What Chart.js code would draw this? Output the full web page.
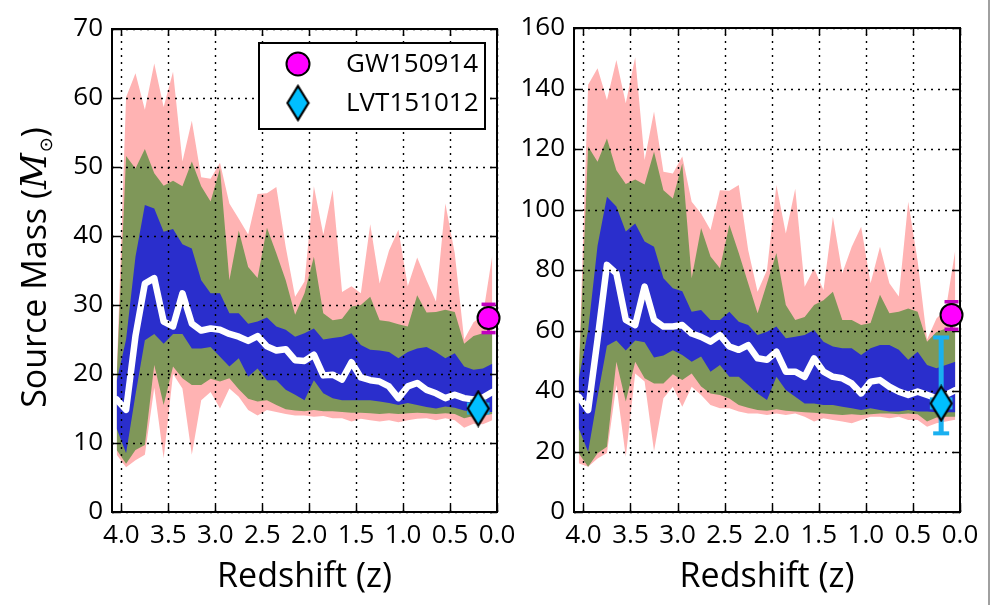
<!DOCTYPE html>
<html>
<head>
<meta charset="utf-8">
<script src="https://cdn.jsdelivr.net/npm/chart.js@4.4.1/dist/chart.umd.min.js"></script>
<style>
html, body { margin: 0; padding: 0; background: #fff; }
#wrap { position: relative; width: 993px; height: 605px; overflow: hidden; background: #fff; }
#wrap canvas { position: absolute; top: 0; }
#edge { position: absolute; left: 988px; top: 0; width: 2px; height: 605px; background: #a0a0a0; }
</style>
</head>
<body>
<div id="wrap">
  <canvas id="leftPanel" width="530" height="605" style="left:0px"></canvas>
  <canvas id="rightPanel" width="520" height="605" style="left:470px"></canvas>
  <div id="edge"></div>
</div>
<script>
// redshift bin centres (x values of every band / line)
const zBins = [4.05,3.95,3.85,3.75,3.65,3.55,3.45,3.35,3.25,3.15,
               3.05,2.95,2.85,2.75,2.65,2.55,2.45,2.35,2.25,2.15,
               2.05,1.95,1.85,1.75,1.65,1.55,1.45,1.35,1.25,1.15,
               1.05,0.95,0.85,0.75,0.65,0.55,0.45,0.35,0.25,0.15,0.05];

// left panel (component mass)
const leftMedian  = [16.3,14.8,25.5,33.1,33.9,27.6,26.9,31.7,27.3,26.3, 26.6,26.4,25.8,25.4,24.8,25.5,24.0,23.4,23.6,22.0, 21.9,22.8,19.8,19.9,19.2,21.7,19.5,19.1,18.9,18.2, 16.5,18.2,18.7,17.7,17.2,16.5,17.0,16.5,16.3,16.6, 17.4];
const leftBlueHi  = [19,25,37,44.5,44.0,40.6,41.0,38.8,38.2,33.6, 31.7,31.7,28.8,28.8,27.3,27.6,28.2,26.9,26.4,25.4, 25.9,26.6,25.0,25.2,25.4,25.9,24.2,23.5,23.4,23.2, 22.3,23.2,23.7,23.9,23.2,22.3,23.0,21.1,20.6,20.8, 21.5];
const leftBlueLo  = [12.1,8.5,17,24.9,25.8,24.4,25.8,25.8,23.7,23.7, 23.9,22.5,21.1,22.3,19.6,20.8,19.1,19.1,17.7,17.0, 16.2,19.1,17.2,16.5,16.2,16.2,16.2,16.2,16.0,15.8, 15.5,15.8,15.5,15.2,15.0,15.3,15.1,14.7,14.5,14.5, 14.5];
const leftGreenHi = [19.5,51.6,49.8,52.6,49.1,47.3,48.0,47.2,50.8,47.2, 45.0,49.8,33.6,40.8,35.5,33.9,41.2,37.5,33.6,28.6, 31.7,37.0,28.8,27.8,28.0,29.8,30.0,31.2,27.8,27.6, 27.2,26.9,31.4,28.9,29.0,29.3,29.0,24.4,25.5,25.9, 25.9];
const leftGreenLo = [9.0,7.0,9.0,9.7,21.3,15.5,21.1,19.4,18.4,18.4, 19.3,18.9,19.4,17.8,16.4,16.0,16.2,15.5,14.9,14.7, 14.6,14.8,14.6,14.6,14.5,14.4,14.4,14.3,14.2,14.3, 14.2,14.3,14.4,14.3,14.2,14.3,14.2,13.6,13.9,14.0, 14.2];
const leftPinkHi  = [20,60.1,63.6,58.3,65.0,58.7,63.8,50.8,56.7,48.5, 48.3,50.6,44.7,42.5,40.2,46.1,46.2,47.1,38.4,31.2, 33.4,47.2,40.2,46.7,31.9,32.7,31.7,41.7,33.1,37.9, 40.9,32.7,36.9,33.6,30.5,44.7,37.5,25.0,27.5,28.5, 37.2];
const leftPinkLo  = [8.3,6.5,7.5,8.3,18.0,7.8,20.0,17.9,8.3,16.2, 17.4,15.0,17.9,16.7,14.8,14.0,14.8,14.5,14.2,14.0, 14.0,13.8,13.9,13.6,13.6,13.1,13.5,13.3,13.1,13.3, 13.0,13.3,13.5,13.6,13.3,13.6,13.3,12.2,12.8,12.7, 13.3];

// right panel (total mass)
const rightMedian  = [38.1,33.7,57,81.7,78.9,63.5,61.8,74.5,63.5,61.3, 61.3,61.8,59.0,57.9,56.3,58.5,54.7,53.6,55.2,50.8, 50.3,53.0,46.4,46.4,44.7,50.8,46.4,44.7,44.2,42.5, 39.2,43.1,43.6,41.4,39.8,38.7,39.8,38.7,37.6,38.7, 40.3];
const rightBlueHi  = [44,60,88,104.2,101,92.7,95.4,89.4,87.7,77.3, 74.0,73.0,66.2,66.8,63.5,63.5,66.2,62.9,61.8,58.5, 59.6,61.3,57.4,57.9,58.5,60.2,56.3,54.7,54.1,54.1, 51.9,54.1,55.2,55.2,53.6,50.3,53.0,48.6,47.5,48.6, 49.7];
const rightBlueLo  = [27.7,19.9,38,55.0,56.7,53.4,56.7,56.1,51.1,51.7, 53.5,51.9,49.7,51.4,46.4,48.6,44.7,44.7,42.0,39.2, 37.0,44.7,40.3,38.1,35.9,35.9,35.4,35.4,34.8,34.3, 33.7,34.3,33.7,33.2,33.2,33.7,33.2,33.2,33.0,33.0, 33.0];
const rightGreenHi = [44.5,120.8,115.8,123.5,113.0,108.4,109.9,108.3,119.1,106.4, 103.6,115.2,77.3,93.9,84.5,80.6,95.0,85.6,75.6,65.7, 75.6,85.6,68.4,63.5,64.5,68.4,70.0,72.8,63.5,63.5, 61.8,62.5,71.8,65.7,66.2,67.3,66.2,56.3,59.5,60.7, 60.7];
const rightGreenLo = [19.4,15.0,19.4,21.6,49.7,36.5,49.7,44.2,42.5,42.5, 45.5,43.6,45.8,41.5,39.2,38.7,37.5,35.4,34.5,33.7, 33.5,34.0,33.5,33.2,33.0,32.8,32.6,32.3,32.1,32.3, 32.1,32.3,32.6,32.6,32.3,32.6,32.3,29.9,31.2,31.5, 31.5];
const rightPinkHi  = [45,141.2,146.7,136.2,149.4,135.1,150.3,116.4,132.4,112.5, 111.9,117.5,102.6,98.7,93.2,106.4,106.2,108.1,86.6,72.8, 80.0,108.1,92.1,106.9,74.5,80.5,73.4,97.6,78.9,87.7, 94.3,75.6,87.7,75.6,71.2,102.6,83.0,57.0,64.0,67.0, 86.6];
const rightPinkLo  = [16.1,15.0,17.7,19.5,42.0,18.3,45.8,43.1,20.1,37.6, 41.4,34.8,41.4,38.7,35.4,34.3,34.3,33.2,32.6,32.6, 32.1,32.6,32.1,32.6,31.5,29.9,31.0,30.4,29.9,29.3, 30.4,31.5,31.5,31.0,31.5,30.4,30.4,28.2,29.3,29.9, 30.5];

// events: [GW150914, LVT151012]
const eventNames = ['GW150914', 'LVT151012'];
const eventZ = [0.09, 0.2];
const lvtZRange = [0.08, 0.32];
const leftEventMass = [28.1, 15.0];
const leftEventLo   = [26.0, 14.3];
const leftEventHi   = [30.1, 16.0];
const rightEventMass = [65.1, 35.9];
const rightEventLo   = [60.4, 26.0];
const rightEventHi   = [69.5, 57.7];

const blueCol = '#2a2ecc', greenCol = '#7f9759', pinkCol = '#ffb3b3';
const magenta = '#ff00ff', magentaBar = '#c000c0', cyan = '#00bfff', cyanBar = '#1ab0f0';
const FONT = '"Open Sans", "DejaVu Sans", sans-serif';

function makeDiamond(w, h) {
  const c = document.createElement('canvas');
  c.width = w + 4; c.height = h + 4;
  const g = c.getContext('2d');
  g.beginPath();
  g.moveTo(c.width / 2, 2);
  g.lineTo(c.width - 2, c.height / 2);
  g.lineTo(c.width / 2, c.height - 2);
  g.lineTo(2, c.height / 2);
  g.closePath();
  g.fillStyle = cyan; g.fill();
  g.lineWidth = 2.2; g.strokeStyle = '#000'; g.lineJoin = 'miter'; g.stroke();
  return c;
}
const diamond = makeDiamond(21, 34);

function xy(arr) { return zBins.map((z, i) => ({x: z, y: arr[i]})); }

function band(arr, color, toNext) {
  return {data: xy(arr), borderWidth: 0, borderColor: 'rgba(0,0,0,0)', backgroundColor: color,
          pointRadius: 0, pointHoverRadius: 0, fill: toNext ? '+1' : false, tension: 0};
}

function drawYTitle(ctx) {
  // "Source Mass (M⊙)" rotated, mixed fonts
  const parts = [
    {t: 'Source Mass (', f: '34px ' + FONT, dy: 0},
    {t: 'M', f: 'italic 35px "DejaVu Serif", serif', dy: 0},
    {t: '\u2299', f: '18px "DejaVu Sans", sans-serif', dy: 6},
    {t: ')', f: '34px ' + FONT, dy: 0}
  ];
  let w = 0;
  parts.forEach(p => { ctx.font = p.f; p.w = ctx.measureText(p.t).width; w += p.w; });
  ctx.save();
  ctx.translate(46, 268);
  ctx.rotate(-Math.PI / 2);
  ctx.fillStyle = '#000';
  ctx.textBaseline = 'alphabetic';
  ctx.textAlign = 'left';
  let x = -w / 2;
  parts.forEach(p => { ctx.font = p.f; ctx.fillText(p.t, x, p.dy); x += p.w + (p.t === 'M' ? 1 : 0); });
  ctx.restore();
}

function drawLegend(ctx, a) {
  const w = 226, h = 86;
  const left = a.right - 12 - w, top = a.top + 14;
  ctx.save();
  ctx.fillStyle = '#fff';
  ctx.fillRect(left, top, w, h);
  ctx.lineWidth = 2; ctx.strokeStyle = '#000';
  ctx.strokeRect(left, top, w, h);
  ctx.beginPath();
  ctx.arc(left + 39, top + 21, 11.5, 0, Math.PI * 2);
  ctx.fillStyle = magenta; ctx.fill();
  ctx.lineWidth = 2; ctx.stroke();
  ctx.drawImage(diamond, left + 39 - diamond.width / 2, top + 60 - diamond.height / 2);
  ctx.fillStyle = '#000';
  ctx.font = '26px ' + FONT;
  ctx.textBaseline = 'middle';
  ctx.fillText(eventNames[0], left + 87, top + 22);
  ctx.fillText(eventNames[1], left + 87, top + 61);
  ctx.restore();
}

function makeOverlay(ev, isLeft) {
  return {
    id: 'overlay',
    beforeDatasetDraw(chart, args) {
      if (args.index !== 1) return;
      const ctx = chart.ctx, a = chart.chartArea, x = chart.scales.x, y = chart.scales.y;
      ctx.save();
      // dotted grid on top of the bands
      ctx.strokeStyle = '#000'; ctx.lineWidth = 1.4; ctx.setLineDash([2, 5]);
      x.ticks.forEach(t => {
        const px = Math.round(x.getPixelForValue(t.value)) + 0.5;
        ctx.beginPath(); ctx.moveTo(px, a.bottom); ctx.lineTo(px, a.top); ctx.stroke();
      });
      y.ticks.forEach(t => {
        const py = Math.round(y.getPixelForValue(t.value)) + 0.5;
        ctx.beginPath(); ctx.moveTo(a.left, py); ctx.lineTo(a.right, py); ctx.stroke();
      });
      ctx.setLineDash([]);
      // inward ticks on all four sides
      ctx.lineWidth = 1.5;
      x.ticks.forEach(t => {
        const px = Math.round(x.getPixelForValue(t.value)) + 0.5;
        ctx.beginPath();
        ctx.moveTo(px, a.bottom); ctx.lineTo(px, a.bottom - 7);
        ctx.moveTo(px, a.top); ctx.lineTo(px, a.top + 7);
        ctx.stroke();
      });
      y.ticks.forEach(t => {
        const py = Math.round(y.getPixelForValue(t.value)) + 0.5;
        ctx.beginPath();
        ctx.moveTo(a.left, py); ctx.lineTo(a.left + 7, py);
        ctx.moveTo(a.right, py); ctx.lineTo(a.right - 7, py);
        ctx.stroke();
      });
      ctx.lineWidth = 2;
      ctx.strokeRect(a.left, a.top, a.right - a.left, a.bottom - a.top);

      // GW150914 error bar
      let px = x.getPixelForValue(eventZ[0]);
      ctx.strokeStyle = magentaBar; ctx.lineWidth = 3;
      ctx.beginPath();
      ctx.moveTo(px, y.getPixelForValue(ev.lo[0])); ctx.lineTo(px, y.getPixelForValue(ev.hi[0]));
      ctx.stroke();
      ctx.lineWidth = 3.5;
      [ev.lo[0], ev.hi[0]].forEach(v => {
        const py = y.getPixelForValue(v);
        ctx.beginPath(); ctx.moveTo(px - 7, py); ctx.lineTo(px + 7, py); ctx.stroke();
      });
      // LVT151012 error bars
      px = x.getPixelForValue(eventZ[1]);
      ctx.strokeStyle = cyanBar; ctx.lineWidth = 5;
      ctx.beginPath();
      ctx.moveTo(px, y.getPixelForValue(ev.lo[1])); ctx.lineTo(px, y.getPixelForValue(ev.hi[1]));
      ctx.stroke();
      ctx.lineWidth = 4;
      [ev.lo[1], ev.hi[1]].forEach(v => {
        const py = y.getPixelForValue(v);
        ctx.beginPath(); ctx.moveTo(px - 8, py); ctx.lineTo(px + 8, py); ctx.stroke();
      });
      ctx.lineWidth = 12;
      const pm = y.getPixelForValue(ev.mass[1]);
      ctx.beginPath();
      ctx.moveTo(x.getPixelForValue(lvtZRange[0]), pm); ctx.lineTo(x.getPixelForValue(lvtZRange[1]), pm);
      ctx.stroke();
      ctx.restore();
    },
    afterDraw(chart) {
      if (!isLeft) return;
      drawLegend(chart.ctx, chart.chartArea);
      drawYTitle(chart.ctx);
    }
  };
}

function buildPanel(canvasId, s, isLeft) {
  const datasets = [
    {data: [{x: eventZ[1], y: s.ev.mass[1]}], showLine: false, pointStyle: diamond, pointRadius: 17, clip: false},
    {data: [{x: eventZ[0], y: s.ev.mass[0]}], showLine: false, pointStyle: 'circle', pointRadius: 11,
     backgroundColor: magenta, borderColor: '#000', borderWidth: 2, clip: false},
    {data: xy(s.median), borderColor: '#fff', borderWidth: 6.5, pointRadius: 0, fill: false, tension: 0,
     borderJoinStyle: 'round', borderCapStyle: 'round'},
    band(s.blueHi, blueCol, true), band(s.blueLo, blueCol, false),
    band(s.greenHi, greenCol, true), band(s.greenLo, greenCol, false),
    band(s.pinkHi, pinkCol, true), band(s.pinkLo, pinkCol, false)
  ];
  return new Chart(document.getElementById(canvasId), {
    type: 'line',
    data: {datasets: datasets},
    plugins: [makeOverlay(s.ev, isLeft)],
    options: {
      responsive: false, animation: false, devicePixelRatio: 1, events: [],
      layout: {padding: {left: 0, top: s.top, right: s.right, bottom: 0}},
      plugins: {legend: {display: false}, tooltip: {enabled: false}},
      scales: {
        x: {
          type: 'linear', min: 0, max: 4.1, reverse: true,
          grid: {display: false, drawTicks: false}, border: {display: false},
          ticks: {stepSize: 0.5, includeBounds: false, autoSkip: false, maxRotation: 0, padding: 8,
                  color: '#000', font: {family: FONT, size: 26},
                  callback: v => v.toFixed(1)},
          title: {display: true, text: 'Redshift (z)', color: '#000', font: {family: FONT, size: 34},
                  padding: {top: 0, bottom: 7}},
          afterFit: sc => { sc.height = 93; }
        },
        y: {
          type: 'linear', min: 0, max: s.ymax,
          grid: {display: false, drawTicks: false}, border: {display: false},
          ticks: {stepSize: s.ystep, padding: 9, color: '#000', font: {family: FONT, size: 26}},
          afterFit: sc => { sc.width = s.yWidth; }
        }
      }
    }
  });
}

buildPanel('leftPanel', {
  median: leftMedian, blueHi: leftBlueHi, blueLo: leftBlueLo, greenHi: leftGreenHi, greenLo: leftGreenLo,
  pinkHi: leftPinkHi, pinkLo: leftPinkLo,
  ev: {mass: leftEventMass, lo: leftEventLo, hi: leftEventHi},
  ymax: 70, ystep: 10, top: 29, right: 33, yWidth: 112
}, true);

buildPanel('rightPanel', {
  median: rightMedian, blueHi: rightBlueHi, blueLo: rightBlueLo, greenHi: rightGreenHi, greenLo: rightGreenLo,
  pinkHi: rightPinkHi, pinkLo: rightPinkLo,
  ev: {mass: rightEventMass, lo: rightEventLo, hi: rightEventHi},
  ymax: 160, ystep: 20, top: 28, right: 30, yWidth: 104
}, false);
</script>
</body>
</html>
